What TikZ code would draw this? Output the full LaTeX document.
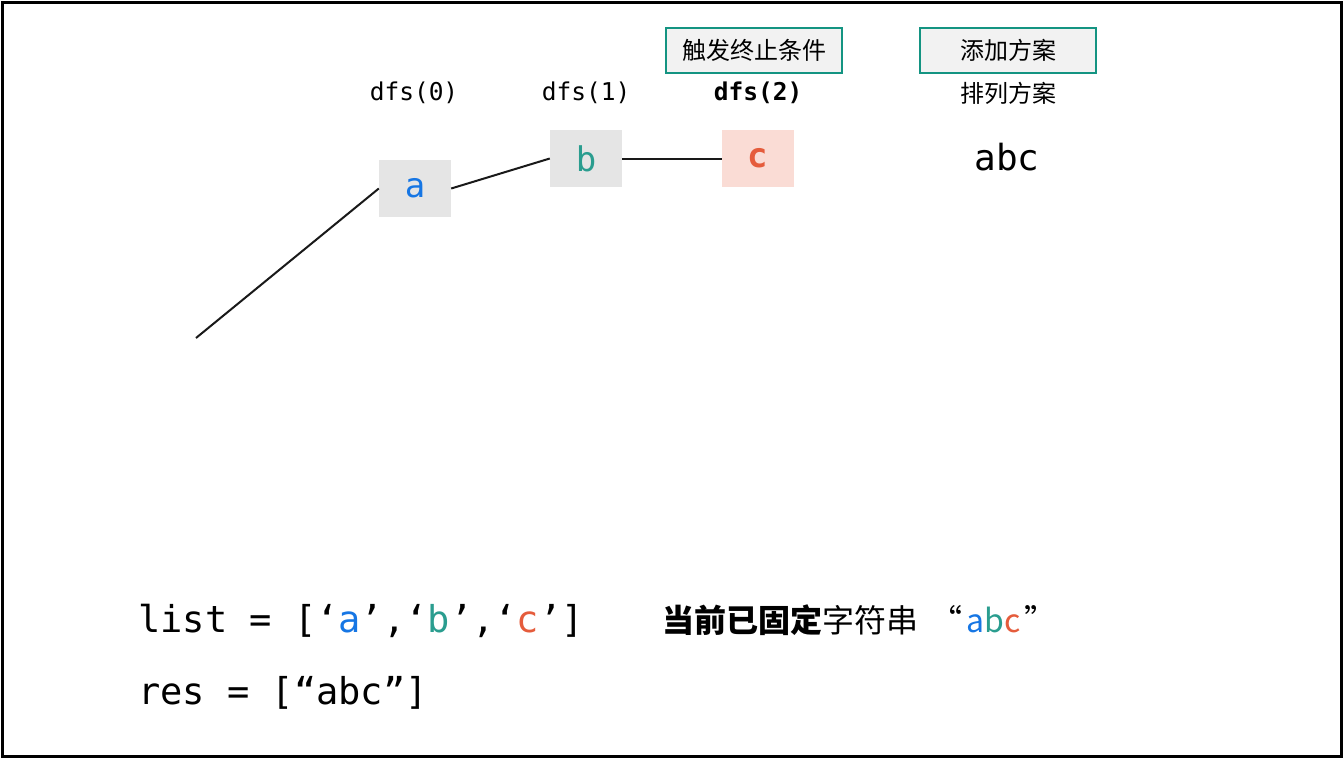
\documentclass[tikz,border=0pt]{standalone}
\usepackage{fontspec}
\setmainfont{DejaVu Sans}
\setmonofont{DejaVu Sans Mono}
\newfontfamily\cjk{Noto Sans CJK SC}
\usetikzlibrary{positioning}
\definecolor{charA}{RGB}{22,118,228}
\definecolor{charB}{RGB}{42,157,143}
\definecolor{charC}{RGB}{229,92,60}
\definecolor{cellgray}{RGB}{229,229,229}
\definecolor{cellpink}{RGB}{250,220,213}
\definecolor{tagline}{RGB}{20,148,130}
\definecolor{tagfill}{RGB}{242,242,242}
\newcommand{\fs}[1]{\fontsize{#1}{#1}\selectfont}

\begin{document}
\begin{tikzpicture}[x=1pt, y=-1pt,
      cell/.style={minimum width=72pt, minimum height=57pt, inner sep=0pt,
        font=\ttfamily\fs{34}},
      tagbox/.style={draw=tagline, line width=1.8pt, fill=tagfill, inner sep=0pt,
        minimum width=176pt, minimum height=45pt, font=\cjk\fs{24}},
      call/.style={font=\ttfamily\fs{24.5}},
      codeline/.style={anchor=base west, inner sep=0pt, font=\ttfamily\fs{37}},
      edge/.style={line width=2pt, draw=black!90}
    ]
    \useasboundingbox (0,0) rectangle (1344,758);
    \draw[line width=3pt] (2,2) rectangle (1341.5,756.5);

    % path of the recursion
    \coordinate (root) at (196,338);
    \node[cell, fill=cellgray] (a) at (415,188.5) {\textcolor{charA}{a}};
    \node[cell, fill=cellgray] (b) at (586,158.5) {\textcolor{charB}{b}};
    \node[cell, fill=cellpink] (c) at (758,158.5) {\textcolor{charC}{\bfseries c}};

    \draw[edge] (root) -- (a.west);
    \draw[edge] (a.east) -- (b.west);
    \draw[edge] (b.east) -- (c.west);

    \node[call] (dfs0) at (414,93) {dfs(0)};
    \node[call] (dfs1) at (586,93) {dfs(1)};
    \node[call] (dfs2) at (758,93) {\bfseries dfs(2)};

    \node[tagbox] (stop) at (754,50.5) {触发终止条件};
    \node[tagbox] (add) at (1008,50.5) {添加方案};
    \node[font=\cjk\fs{24}] (perm) at (1008,93) {排列方案};
    \node[font=\ttfamily\fs{36}] (result) at (1007,157) {abc};

    % state at the bottom
    \node[codeline] (list) at (138,632)
      {list = [‘\textcolor{charA}{a}’,‘\textcolor{charB}{b}’,‘\textcolor{charC}{c}’]};
    \node[codeline] (res) at (138,704) {res = [“abc”]};
    \node[anchor=base west, inner sep=0pt, font=\cjk\fs{32}] (fixed) at (662,632)
      {{\bfseries 当前已固定}字符串\hspace{12pt}“\hspace{4pt}\textcolor{charA}{a}\textcolor{charB}{b}\textcolor{charC}{c}\hspace{4pt}”};
  \end{tikzpicture}
\end{document}
